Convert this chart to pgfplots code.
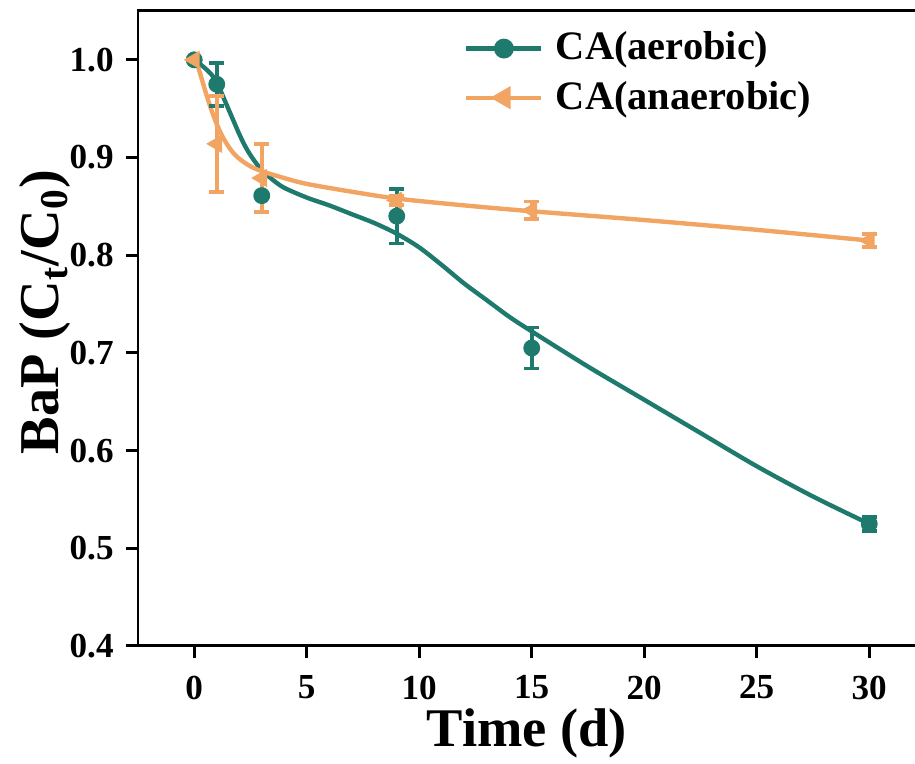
\documentclass[border=0pt]{standalone}
\usepackage{fontspec}
\setmainfont{Liberation Serif}
\usepackage{pgfplots}
\usepackage{pgfplotstable}
\pgfplotsset{compat=1.18}

\definecolor{aer}{HTML}{1F7A6E}
\definecolor{ana}{HTML}{F2A462}

% measured points with error bars: time, C/C0, error
\pgfplotstableread{
t y err
1 0.975 0.022
9 0.840 0.028
15 0.705 0.021
30 0.525 0.007
}\aerobic
\pgfplotstableread{
t y err
1 0.914 0.049
3 0.879 0.035
9 0.856 0.005
15 0.846 0.009
30 0.815 0.007
}\anaerobic
% fitted curves
\pgfplotstableread{
t y
0 1.000
0.4 0.993
0.8 0.984
1.1 0.972
1.4 0.956
1.7 0.940
2.0 0.924
2.3 0.910
2.6 0.899
3.0 0.887
3.5 0.877
4.0 0.869
5 0.859
6 0.851
7 0.842
8 0.833
9 0.822
10 0.808
11 0.790
12 0.771
13 0.754
14 0.737
15 0.722
17.5 0.686
20 0.652
22.5 0.618
25 0.584
27.5 0.553
30 0.525
}\aerfit
\pgfplotstableread{
t y
0 1.006
0.3 0.983
0.6 0.960
0.9 0.940
1.2 0.924
1.5 0.912
1.8 0.903
2.1 0.897
2.5 0.891
3 0.886
4 0.879
5 0.873
7 0.865
9 0.858
12 0.851
15 0.845
20 0.836
25 0.826
30 0.815
}\anafit

\begin{document}
\begin{tikzpicture}
\begin{axis}[
name=ax,
scale only axis,
width=7.875cm,height=6.35cm,
xmin=-2.5,xmax=32.5,ymin=0.4,ymax=1.05,
xtick={0,5,...,30},
ytick={0.4,0.5,...,1.0},
tick align=outside,
xtick pos=left,ytick pos=left,
major tick length=0.12cm,
axis line style={line width=0.85pt},
every tick/.style={black,line width=0.85pt},
/pgf/number format/assume math mode=true,
ticklabel style={font=\fontsize{10}{12}\selectfont\bfseries},
yticklabel style={/pgf/number format/.cd,fixed,fixed zerofill,precision=1},
xticklabel style={yshift=-1.5pt},
xlabel={Time (d)},
ylabel={BaP (C\textsubscript{t}/C\textsubscript{0})},
every axis x label/.style={at={(axis description cs:0.494,-0.137)},anchor=center,
  font=\fontsize{15.5}{18}\selectfont\bfseries},
every axis y label/.style={at={(axis description cs:-0.118,0.526)},rotate=90,anchor=center,
  font=\fontsize{16}{19}\selectfont\bfseries},
legend style={at={(axis description cs:0.400,0.982)},anchor=north west,
  draw=none,fill=none,font=\fontsize{11.5}{13}\selectfont\bfseries,
  nodes={inner sep=0.5pt},row sep=3.5pt,
  /tikz/every odd column/.append style={column sep=3pt}},
legend cell align=left,
legend image code/.code={\draw[mark repeat=2,mark phase=2,#1]
  plot coordinates {(0cm,0cm) (0.375cm,0cm) (0.75cm,0cm)};},
]
\addlegendimage{aer,line width=1.25pt,mark=*,mark size=2.2pt}
\addlegendentry{CA(aerobic)}
\addlegendimage{ana,line width=1.25pt,mark=triangle*,mark size=2.6pt,mark options={rotate=90}}
\addlegendentry{CA(anaerobic)}

\addplot[aer,line width=1.25pt,smooth,no marks,forget plot] table[x=t,y=y] {\aerfit};
\addplot[ana,line width=1.25pt,smooth,no marks,forget plot] table[x=t,y=y] {\anafit};

\addplot[aer,only marks,mark=*,mark size=2.2pt,forget plot,
  error bars/.cd,y dir=both,y explicit,
  error bar style={line width=1.1pt},
  error mark=-,
  error mark options={rotate=90,line width=1.1pt,mark size=2.2pt}]
  table[x=t,y=y,y error=err] {\aerobic};
\addplot[aer,only marks,mark=*,mark size=2.2pt,forget plot] coordinates {(0,1.000) (3,0.861)};
\addplot[ana,only marks,mark=triangle*,mark size=2.6pt,mark options={rotate=90},forget plot,
  error bars/.cd,y dir=both,y explicit,
  error bar style={line width=1.1pt},
  error mark=-,
  error mark options={rotate=90,line width=1.1pt,mark size=2.2pt}]
  table[x=t,y=y,y error=err] {\anaerobic};
\addplot[ana,only marks,mark=triangle*,mark size=2.6pt,mark options={rotate=90},forget plot] coordinates {(0,1.000)};
\end{axis}
\pgfresetboundingbox
\path[use as bounding box] ([shift={(-1.38cm,-1.18cm)}]ax.south west)
  rectangle ([shift={(7.77cm,0.11cm)}]ax.north west);
\end{tikzpicture}
\end{document}
